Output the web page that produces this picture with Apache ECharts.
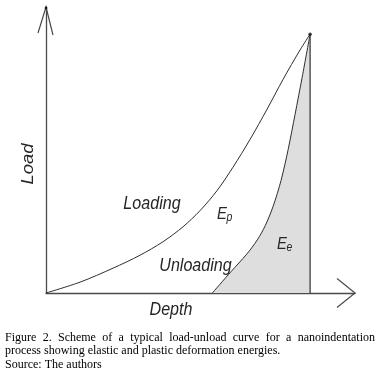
<!DOCTYPE html>
<html>
<head>
<meta charset="utf-8">
<script src="https://cdn.jsdelivr.net/npm/echarts@6/dist/echarts.min.js"></script>
<style>
  html, body { margin: 0; padding: 0; background: #fff; }
  #chart { width: 383px; height: 376px; }
</style>
</head>
<body>
<div id="chart"></div>
<script>
// Loading branch: indentation depth vs. applied load (arbitrary units, peak = 100)
const loadingDepth = [0, 12.9, 25.4, 35.6, 44.3, 51.9, 58.3, 64.8, 70.8, 77.3, 83.7, 89.8, 96.2, 100];
const loadingLoad  = [0, 4.2, 9.6, 14.6, 19.8, 25.6, 31.8, 39.6, 48.6, 59.4, 71.0, 82.6, 93.9, 100];

// Unloading branch: residual depth up to the peak
const unloadingDepth = [63, 70, 76, 80, 83, 86, 89, 91.7, 94.3, 97, 100];
const unloadingLoad  = [0, 8.2, 15.0, 20.5, 26.0, 33.5, 43.5, 55.5, 69.0, 83.4, 100];

// Axis extents (the arrow tips sit at these values)
const depthMax = 117;
const loadMax = 110.5;

// Text
const axisTitles = ['Depth', 'Load'];
const curveTitles = ['Loading', 'Unloading'];
const energyTitles = [['E', 'p'], ['E', 'e']];
const captionLines = [
  'Figure 2. Scheme of a typical load-unload curve for a nanoindentation',
  'process showing elastic and plastic deformation energies.',
  'Source: The authors'
];

const zip = (xs, ys) => xs.map((x, i) => [x, ys[i]]);
const peak = [loadingDepth[loadingDepth.length - 1], loadingLoad[loadingLoad.length - 1]];

const chart = echarts.init(document.getElementById('chart'), null, { renderer: 'canvas' });

const axisLine = { show: true, lineStyle: { color: '#4a4a4a', width: 1.3 } };
const plainAxis = {
  type: 'value',
  min: 0,
  axisLine: axisLine,
  axisTick: { show: false },
  axisLabel: { show: false },
  splitLine: { show: false }
};

chart.setOption({
  animation: false,
  backgroundColor: '#fff',
  grid: { left: 46, right: 28, top: 7, bottom: 83 },
  xAxis: Object.assign({}, plainAxis, { max: depthMax }),
  yAxis: Object.assign({}, plainAxis, { max: loadMax }),
  series: [
    {
      name: 'unloading',
      type: 'line',
      data: zip(unloadingDepth, unloadingLoad),
      smooth: 0.3,
      showSymbol: false,
      lineStyle: { color: '#2e2e2e', width: 1 },
      areaStyle: { color: '#dedede', opacity: 1 },
      z: 2
    },
    {
      name: 'loading',
      type: 'line',
      data: zip(loadingDepth, loadingLoad),
      smooth: 0.3,
      showSymbol: false,
      lineStyle: { color: '#2e2e2e', width: 1 },
      z: 3
    },
    {
      name: 'max depth',
      type: 'line',
      data: [[peak[0], 0], peak],
      showSymbol: false,
      lineStyle: { color: '#555', width: 1.5 },
      z: 3
    },
    {
      name: 'peak',
      type: 'scatter',
      data: [peak],
      symbolSize: 3.5,
      itemStyle: { color: '#111' },
      z: 4
    }
  ]
});

// Open chevron arrowheads at the ends of both axes
const xTip = chart.convertToPixel({ gridIndex: 0 }, [depthMax, 0]);
const yTip = chart.convertToPixel({ gridIndex: 0 }, [0, loadMax]);
const arrowStyle = { stroke: '#4a4a4a', lineWidth: 1.2, fill: null };

const italic = (size) => 'italic ' + size + 'px "Liberation Sans", Arial, sans-serif';
const ink = '#262626';
const squeeze = 0.87;

function label(text, x, y, size, extra) {
  return Object.assign({
    type: 'text', x: x, y: y, scaleX: squeeze,
    style: { text: text, font: italic(size), fill: ink, align: 'center', verticalAlign: 'middle' },
    z: 10
  }, extra || {});
}

function energy(parts, x, y) {
  return [
    { type: 'text', x: x, y: y, scaleX: squeeze, z: 10,
      style: { text: parts[0], font: italic(17), fill: ink, align: 'left', verticalAlign: 'middle' } },
    { type: 'text', x: x + 9.5, y: y + 4, scaleX: squeeze, z: 10,
      style: { text: parts[1], font: italic(12), fill: ink, align: 'left', verticalAlign: 'middle' } }
  ];
}

// Caption in serif type; the first line is justified to the text block width
const captionFont = '12px "Liberation Serif", "Times New Roman", serif';
const measure = document.createElement('canvas').getContext('2d');
measure.font = captionFont;

function captionLine(text, y, justify) {
  const left = 5, right = 375;
  if (!justify) {
    return [{ type: 'text', x: left, y: y, z: 10,
      style: { text: text, font: captionFont, fill: '#000', align: 'left', verticalAlign: 'middle' } }];
  }
  const words = text.split(' ');
  const widths = words.map(w => measure.measureText(w).width);
  const total = widths.reduce((a, b) => a + b, 0);
  const gap = (right - left - total) / (words.length - 1);
  let x = left;
  return words.map((w, i) => {
    const el = { type: 'text', x: x, y: y, z: 10,
      style: { text: w, font: captionFont, fill: '#000', align: 'left', verticalAlign: 'middle' } };
    x += widths[i] + gap;
    return el;
  });
}

const elements = [
  { type: 'polyline', z: 10, shape: { points: [[xTip[0] - 18, xTip[1] - 14.5], xTip, [xTip[0] - 18, xTip[1] + 14.5]] }, style: arrowStyle },
  { type: 'polyline', z: 10, shape: { points: [[yTip[0] - 8, yTip[1] + 26], yTip, [yTip[0] + 7, yTip[1] + 28]] }, style: arrowStyle },
  { type: 'circle', z: 11, shape: { cx: yTip[0], cy: yTip[1] + 1, r: 1.3 }, style: { fill: '#111' } },
  label(axisTitles[0], 171, 310, 18.5),
  label(axisTitles[1], 28.5, 164, 18.5, { rotation: Math.PI / 2, scaleX: 1, scaleY: squeeze }),
  label(curveTitles[0], 152, 203.5, 18.5),
  label(curveTitles[1], 195.5, 265.5, 18.5)
]
  .concat(energy(energyTitles[0], 217, 214))
  .concat(energy(energyTitles[1], 277, 244))
  .concat(captionLine(captionLines[0], 338, true))
  .concat(captionLine(captionLines[1], 351, false))
  .concat(captionLine(captionLines[2], 364.5, false));

chart.setOption({ graphic: { elements: elements } });
</script>
</body>
</html>
